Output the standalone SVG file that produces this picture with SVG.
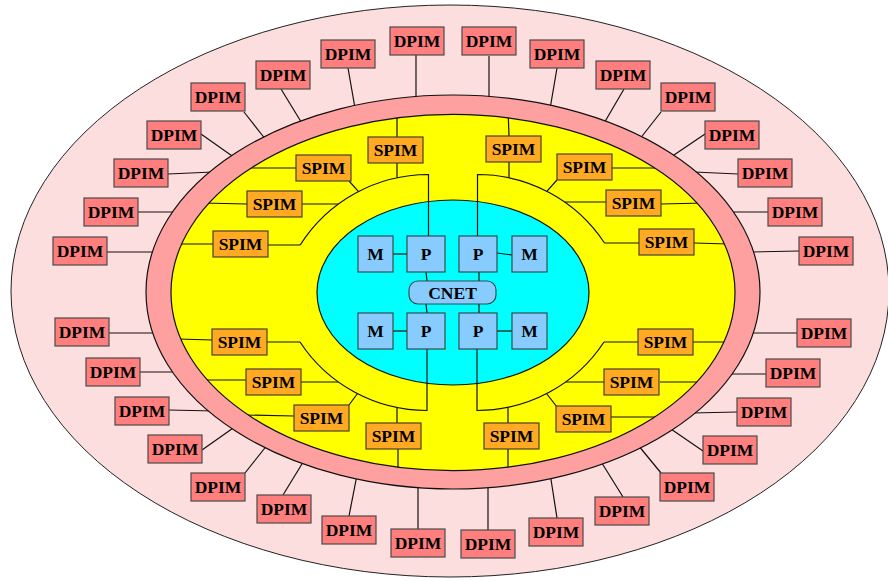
<svg xmlns="http://www.w3.org/2000/svg" width="888" height="581" viewBox="0 0 888 581">
<style>
.dpim rect{fill:#FF7F7F;stroke:#4a4a4a;stroke-width:1.2}
.spim rect{fill:#FFAA22;stroke:#4a4030;stroke-width:1.2}
.blue rect{fill:#88CCFF;stroke:#2f4f4f;stroke-width:1.2}
text{font-family:"Liberation Serif","Times New Roman",serif;font-weight:bold;font-size:17.5px;text-anchor:middle;fill:#000}
#connectors line,#connectors path{stroke:#111;stroke-width:1.2;fill:none}
</style>
<rect width="888" height="581" fill="#fff"/>
<g id="background">
<ellipse cx="450" cy="291" rx="439" ry="286" fill="#FDDEDE" stroke="#222" stroke-width="1"/>
<ellipse cx="453" cy="292.5" rx="282" ry="178" fill="#FFFF00"/>
<ellipse cx="453" cy="292.5" rx="136" ry="92.5" fill="#00FFFF" stroke="#111" stroke-width="1.2"/>
</g>
<g id="connectors">
<line x1="416" y1="55" x2="416" y2="100"/>
<line x1="348" y1="68" x2="355" y2="108"/>
<line x1="281" y1="89" x2="303" y2="125"/>
<line x1="244" y1="112" x2="266" y2="140"/>
<line x1="201" y1="134" x2="235" y2="158"/>
<line x1="168" y1="174" x2="213" y2="172"/>
<line x1="138" y1="212" x2="178" y2="212"/>
<line x1="107" y1="252" x2="156" y2="252"/>
<line x1="489" y1="56" x2="489" y2="102"/>
<line x1="557" y1="68" x2="550" y2="109"/>
<line x1="624" y1="89" x2="603" y2="125"/>
<line x1="661" y1="112" x2="639" y2="140"/>
<line x1="705" y1="134" x2="671" y2="157"/>
<line x1="738" y1="174" x2="694" y2="172"/>
<line x1="768" y1="212" x2="727" y2="212"/>
<line x1="799" y1="251" x2="751" y2="252"/>
<line x1="109" y1="333" x2="156" y2="333"/>
<line x1="140" y1="372" x2="179" y2="372"/>
<line x1="168" y1="410" x2="215" y2="411"/>
<line x1="202" y1="450" x2="236" y2="426"/>
<line x1="245" y1="473" x2="268" y2="444"/>
<line x1="283" y1="495" x2="305" y2="459"/>
<line x1="349" y1="516" x2="357" y2="475"/>
<line x1="418" y1="529" x2="418" y2="483"/>
<line x1="488" y1="530" x2="488" y2="484"/>
<line x1="557" y1="518" x2="550" y2="473"/>
<line x1="623" y1="497" x2="600" y2="460"/>
<line x1="661" y1="473" x2="638" y2="445"/>
<line x1="703" y1="451" x2="668" y2="427"/>
<line x1="737" y1="412" x2="692" y2="413"/>
<line x1="766" y1="374" x2="726" y2="374"/>
<line x1="797" y1="333" x2="748" y2="333"/>
<line x1="397" y1="137" x2="397" y2="108"/>
<line x1="397" y1="163" x2="397" y2="177.8"/>
<line x1="296" y1="168" x2="244" y2="168"/>
<line x1="349" y1="181" x2="358.6" y2="191.6"/>
<line x1="247" y1="204" x2="202" y2="203"/>
<line x1="302" y1="204" x2="338.5" y2="204"/>
<line x1="213" y1="244" x2="176" y2="244"/>
<line x1="268" y1="245" x2="300.2" y2="245"/>
<line x1="509" y1="136" x2="508" y2="108"/>
<line x1="509" y1="162" x2="509" y2="177.8"/>
<line x1="612" y1="168" x2="660" y2="168"/>
<line x1="557" y1="180" x2="547" y2="191.2"/>
<line x1="606" y1="202" x2="564.7" y2="202"/>
<line x1="661" y1="204" x2="704" y2="203"/>
<line x1="639" y1="243" x2="604.5" y2="243"/>
<line x1="694" y1="243" x2="729" y2="244"/>
<line x1="212" y1="340" x2="178" y2="339"/>
<line x1="267" y1="342" x2="300" y2="342"/>
<line x1="246" y1="380" x2="203" y2="380"/>
<line x1="301" y1="382" x2="338.4" y2="382"/>
<line x1="294" y1="416" x2="243" y2="415"/>
<line x1="349" y1="405" x2="357.5" y2="393.5"/>
<line x1="397" y1="423" x2="397" y2="407.5"/>
<line x1="398" y1="449" x2="398" y2="476"/>
<line x1="638" y1="342" x2="604" y2="342"/>
<line x1="693" y1="342" x2="728" y2="342"/>
<line x1="604" y1="382" x2="565.6" y2="382"/>
<line x1="660" y1="382" x2="702" y2="382"/>
<line x1="611" y1="417" x2="658" y2="417"/>
<line x1="557" y1="407" x2="546.5" y2="393.5"/>
<line x1="508" y1="423" x2="508" y2="407.3"/>
<line x1="508" y1="449" x2="508" y2="476"/>
<path d="M300.2,245 A152,152 0 0 1 428.5,174.5 L428.5,236"/>
<path d="M604.5,243 A152,152 0 0 0 477.5,174.5 L477.5,236"/>
<path d="M300,342 A152,152 0 0 0 427,410.5 L427,349"/>
<path d="M604,342 A152,152 0 0 1 477,410.5 L477,349"/>
<line x1="393" y1="254" x2="407" y2="254"/>
<line x1="497" y1="253" x2="512" y2="255"/>
<line x1="393" y1="331" x2="407" y2="331"/>
<line x1="497" y1="331" x2="512" y2="331"/>
<line x1="426" y1="272" x2="427" y2="281"/>
<line x1="479" y1="272" x2="479" y2="281"/>
<line x1="426" y1="304" x2="427" y2="313"/>
<line x1="479" y1="304" x2="479" y2="313"/>
</g>
<path id="ring" fill="#FFA0A0" fill-rule="evenodd" stroke="#111" stroke-width="1.2" d="M146,292 A307,197 0 1 0 760,292 A307,197 0 1 0 146,292 Z M171,292.5 A282,178 0 1 0 735,292.5 A282,178 0 1 0 171,292.5 Z"/>
<g class="dpim">
<g id="dpim1"><rect x="390" y="27" width="54" height="28"/><text x="417" y="47">DPIM</text></g>
<g id="dpim2"><rect x="321" y="40" width="54" height="28"/><text x="348" y="60">DPIM</text></g>
<g id="dpim3"><rect x="256" y="61" width="54" height="28"/><text x="283" y="81">DPIM</text></g>
<g id="dpim4"><rect x="191" y="83" width="54" height="28"/><text x="218" y="103">DPIM</text></g>
<g id="dpim5"><rect x="147" y="121" width="54" height="28"/><text x="174" y="141">DPIM</text></g>
<g id="dpim6"><rect x="114" y="159" width="54" height="28"/><text x="141" y="179">DPIM</text></g>
<g id="dpim7"><rect x="84" y="198" width="54" height="28"/><text x="111" y="218">DPIM</text></g>
<g id="dpim8"><rect x="53" y="237" width="54" height="28"/><text x="80" y="257">DPIM</text></g>
<g id="dpim9"><rect x="462" y="27" width="54" height="28"/><text x="489" y="47">DPIM</text></g>
<g id="dpim10"><rect x="530" y="40" width="54" height="28"/><text x="557" y="60">DPIM</text></g>
<g id="dpim11"><rect x="596" y="61" width="54" height="28"/><text x="623" y="81">DPIM</text></g>
<g id="dpim12"><rect x="661" y="83" width="54" height="28"/><text x="688" y="103">DPIM</text></g>
<g id="dpim13"><rect x="705" y="121" width="54" height="28"/><text x="732" y="141">DPIM</text></g>
<g id="dpim14"><rect x="738" y="159" width="54" height="28"/><text x="765" y="179">DPIM</text></g>
<g id="dpim15"><rect x="768" y="198" width="54" height="28"/><text x="795" y="218">DPIM</text></g>
<g id="dpim16"><rect x="799" y="237" width="54" height="28"/><text x="826" y="257">DPIM</text></g>
<g id="dpim17"><rect x="55" y="318" width="54" height="28"/><text x="82" y="338">DPIM</text></g>
<g id="dpim18"><rect x="86" y="358" width="54" height="28"/><text x="113" y="378">DPIM</text></g>
<g id="dpim19"><rect x="115" y="397" width="54" height="28"/><text x="142" y="417">DPIM</text></g>
<g id="dpim20"><rect x="148" y="435" width="54" height="28"/><text x="175" y="455">DPIM</text></g>
<g id="dpim21"><rect x="191" y="473" width="54" height="28"/><text x="218" y="493">DPIM</text></g>
<g id="dpim22"><rect x="257" y="495" width="54" height="28"/><text x="284" y="515">DPIM</text></g>
<g id="dpim23"><rect x="322" y="516" width="54" height="28"/><text x="349" y="536">DPIM</text></g>
<g id="dpim24"><rect x="391" y="529" width="54" height="28"/><text x="418" y="549">DPIM</text></g>
<g id="dpim25"><rect x="461" y="530" width="54" height="28"/><text x="488" y="550">DPIM</text></g>
<g id="dpim26"><rect x="529" y="518" width="54" height="28"/><text x="556" y="538">DPIM</text></g>
<g id="dpim27"><rect x="595" y="497" width="54" height="28"/><text x="622" y="517">DPIM</text></g>
<g id="dpim28"><rect x="660" y="473" width="54" height="28"/><text x="687" y="493">DPIM</text></g>
<g id="dpim29"><rect x="703" y="436" width="54" height="28"/><text x="730" y="456">DPIM</text></g>
<g id="dpim30"><rect x="737" y="398" width="54" height="28"/><text x="764" y="418">DPIM</text></g>
<g id="dpim31"><rect x="766" y="359" width="54" height="28"/><text x="793" y="379">DPIM</text></g>
<g id="dpim32"><rect x="797" y="319" width="54" height="28"/><text x="824" y="339">DPIM</text></g>
</g>
<g class="spim">
<g id="spimA"><rect x="368" y="137" width="55" height="26"/><text x="395.5" y="156">SPIM</text></g>
<g id="spimB"><rect x="296" y="155" width="55" height="26"/><text x="323.5" y="174">SPIM</text></g>
<g id="spimC"><rect x="247" y="191" width="55" height="26"/><text x="274.5" y="210">SPIM</text></g>
<g id="spimD"><rect x="213" y="231" width="55" height="26"/><text x="240.5" y="250">SPIM</text></g>
<g id="spimE"><rect x="486" y="136" width="55" height="26"/><text x="513.5" y="155">SPIM</text></g>
<g id="spimF"><rect x="557" y="154" width="55" height="26"/><text x="584.5" y="173">SPIM</text></g>
<g id="spimG"><rect x="606" y="190" width="55" height="26"/><text x="633.5" y="209">SPIM</text></g>
<g id="spimH"><rect x="639" y="229" width="55" height="26"/><text x="666.5" y="248">SPIM</text></g>
<g id="spimI"><rect x="212" y="329" width="55" height="26"/><text x="239.5" y="348">SPIM</text></g>
<g id="spimJ"><rect x="246" y="369" width="55" height="26"/><text x="273.5" y="388">SPIM</text></g>
<g id="spimK"><rect x="294" y="405" width="55" height="26"/><text x="321.5" y="424">SPIM</text></g>
<g id="spimL"><rect x="366" y="423" width="55" height="26"/><text x="393.5" y="442">SPIM</text></g>
<g id="spimM"><rect x="638" y="329" width="55" height="26"/><text x="665.5" y="348">SPIM</text></g>
<g id="spimN"><rect x="604" y="369" width="55" height="26"/><text x="631.5" y="388">SPIM</text></g>
<g id="spimO"><rect x="556" y="406" width="55" height="26"/><text x="583.5" y="425">SPIM</text></g>
<g id="spimP"><rect x="484" y="423" width="55" height="26"/><text x="511.5" y="442">SPIM</text></g>
</g>
<g class="blue">
<g id="m1"><rect x="358" y="236" width="35" height="36"/><text x="375.5" y="260">M</text></g>
<g id="p1"><rect x="407" y="236" width="38" height="36"/><text x="426" y="260">P</text></g>
<g id="p2"><rect x="459" y="236" width="38" height="36"/><text x="478" y="260">P</text></g>
<g id="m2"><rect x="512" y="236" width="35" height="36"/><text x="529.5" y="260">M</text></g>
<g id="m3"><rect x="358" y="313" width="35" height="36"/><text x="375.5" y="337">M</text></g>
<g id="p3"><rect x="407" y="313" width="38" height="36"/><text x="426" y="337">P</text></g>
<g id="p4"><rect x="459" y="313" width="38" height="36"/><text x="478" y="337">P</text></g>
<g id="m4"><rect x="512" y="313" width="35" height="36"/><text x="529.5" y="337">M</text></g>
<g id="cnet"><rect x="409" y="281" width="87" height="23" rx="9"/><text x="452.5" y="298.5">CNET</text></g>
</g>
</svg>
